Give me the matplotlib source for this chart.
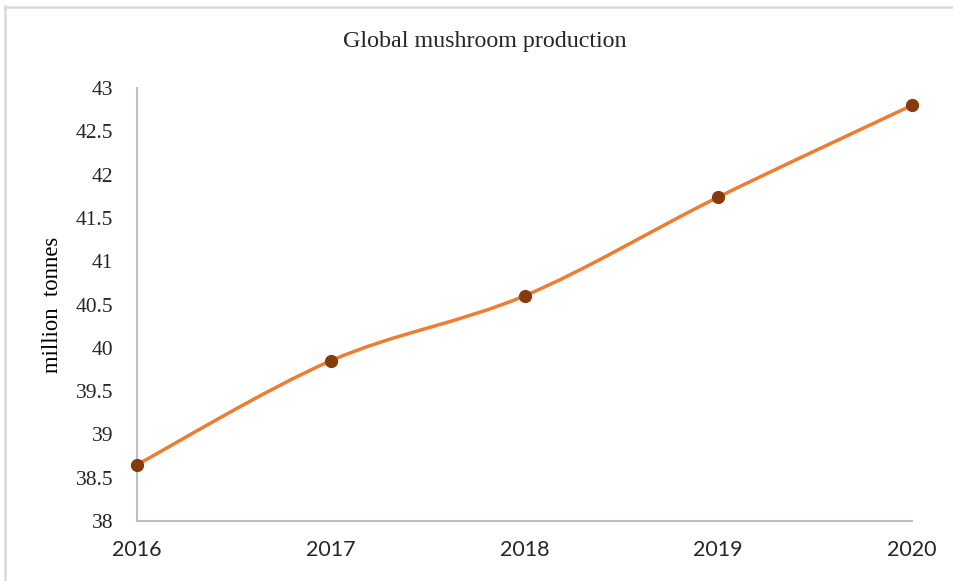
import matplotlib.pyplot as plt
import numpy as np
from matplotlib.path import Path
from matplotlib.patches import PathPatch
from matplotlib.lines import Line2D

years = [2016, 2017, 2018, 2019, 2020]
production = [38.65, 39.85, 40.6, 41.74, 42.8]
yticks = [38, 38.5, 39, 39.5, 40, 40.5, 41, 41.5, 42, 42.5, 43]
ytick_labels = ["38", "38.5", "39", "39.5", "40", "40.5", "41", "41.5", "42", "42.5", "43"]


def smooth_path(x, y, t=1/6):
    # Excel-style smoothed line: cubic bezier through points (Catmull-Rom)
    pts = np.column_stack([x, y]).astype(float)
    n = len(pts)
    verts = [pts[0]]
    codes = [Path.MOVETO]
    for i in range(n - 1):
        p0 = pts[i - 1] if i > 0 else pts[i]
        p1 = pts[i]
        p2 = pts[i + 1]
        p3 = pts[i + 2] if i + 2 < n else pts[i + 1]
        c1 = p1 + (p2 - p0) * t
        c2 = p2 - (p3 - p1) * t
        verts += [c1, c2, p2]
        codes += [Path.CURVE4] * 3
    return Path(verts, codes)


fig = plt.figure(figsize=(9.54, 5.81), dpi=100)
ax = fig.add_axes([137/954, 60/581, 775/954, 433/581])

ax.add_patch(PathPatch(smooth_path(years, production), facecolor="none",
                       edgecolor="#ED7D31", lw=2.5, capstyle="round", zorder=2,
                       clip_on=False))
ax.plot(years, production, "o", color="#843C0C", markersize=8.5, zorder=3, clip_on=False)

ax.set_xlim(2016, 2020)
ax.set_ylim(38, 43)
ax.tick_params(length=0, colors="#262626")
ax.tick_params(axis="y", pad=17)
ax.tick_params(axis="x", pad=14)
ax.set_xticks(years)
ax.set_xticklabels([str(y) for y in years])
ax.set_yticks(yticks)
ax.set_yticklabels(ytick_labels)
for lab in ax.get_xticklabels():
    lab.set_fontfamily("Lato")
    lab.set_fontsize(15.5)
for lab in ax.get_yticklabels():
    lab.set_fontfamily("Liberation Serif")
    lab.set_fontsize(15.5)
for s in ["top", "right"]:
    ax.spines[s].set_visible(False)
for s in ["left", "bottom"]:
    ax.spines[s].set_color("#BFBFBF")
    ax.spines[s].set_linewidth(1.5)

ax.set_ylabel("million  tonnes", fontfamily="Liberation Serif", fontsize=16.3,
              color="#000000")
ax.yaxis.set_label_coords(-0.095, 0.5)

fig.text(485/954, 1 - 42/581, "Global mushroom production", ha="center", va="center",
         fontfamily="Liberation Serif", fontsize=17.3, color="#262626")

# chart frame (left and top edges visible)
fig.add_artist(Line2D([5/954, 5/954], [0, 1 - 6/581], transform=fig.transFigure,
                      color="#D9D9D9", lw=1.8))
fig.add_artist(Line2D([5/954, 1], [1 - 6.5/581, 1 - 6.5/581], transform=fig.transFigure,
                      color="#D9D9D9", lw=1.8))

fig.savefig("out.png", dpi=100)
